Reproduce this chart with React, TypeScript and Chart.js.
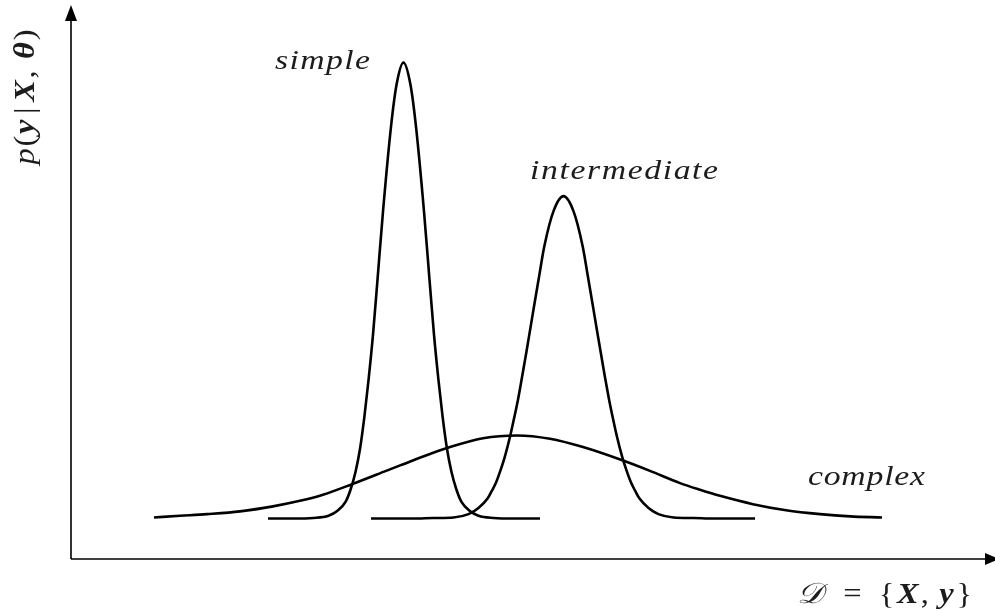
import { useEffect, useRef } from "react";
import { Chart, registerables } from "chart.js";

Chart.register(...registerables);

// Evidence p(y | X, θ) against data sets D, for three model complexities.
// x: position along the data-set axis (0–10), y: evidence (0–1).
const simpleX = [2.132, 2.408, 2.624, 2.787, 2.884, 2.971, 3.025, 3.079, 3.128, 3.176, 3.22, 3.268, 3.317, 3.377, 3.463, 3.523, 3.598, 3.674, 3.734, 3.82, 3.88, 3.929, 3.977, 4.021, 4.069, 4.118, 4.172, 4.226, 4.313, 4.41, 4.573, 4.789, 5.076];
const simpleY = [0.073, 0.073, 0.074, 0.078, 0.087, 0.103, 0.125, 0.157, 0.199, 0.258, 0.323, 0.404, 0.504, 0.628, 0.78, 0.856, 0.896, 0.856, 0.78, 0.628, 0.504, 0.404, 0.323, 0.258, 0.199, 0.157, 0.125, 0.103, 0.087, 0.078, 0.074, 0.073, 0.073];

const intermediateX = [3.247, 3.707, 3.923, 4.14, 4.302, 4.41, 4.508, 4.551, 4.6, 4.648, 4.694, 4.753, 4.794, 4.838, 4.881, 4.93, 4.973, 5.014, 5.07, 5.122, 5.222, 5.33, 5.438, 5.538, 5.59, 5.646, 5.687, 5.731, 5.779, 5.823, 5.866, 5.907, 5.966, 6.012, 6.061, 6.109, 6.153, 6.25, 6.358, 6.521, 6.737, 6.953, 7.403];
const intermediateY = [0.073, 0.073, 0.074, 0.075, 0.081, 0.092, 0.109, 0.122, 0.138, 0.16, 0.184, 0.222, 0.253, 0.288, 0.328, 0.375, 0.418, 0.459, 0.514, 0.564, 0.628, 0.655, 0.628, 0.564, 0.514, 0.459, 0.418, 0.375, 0.328, 0.288, 0.253, 0.222, 0.184, 0.16, 0.138, 0.122, 0.109, 0.092, 0.081, 0.075, 0.074, 0.073, 0.073];

const complexX = [0.898, 1.18, 1.472, 1.829, 2.186, 2.478, 2.727, 3.041, 3.409, 3.561, 4.102, 4.459, 4.827, 5.184, 5.541, 5.952, 6.266, 6.591, 6.807, 7.024, 7.381, 7.738, 8.106, 8.431, 8.777];
const complexY = [0.075, 0.078, 0.081, 0.086, 0.095, 0.105, 0.116, 0.135, 0.159, 0.169, 0.202, 0.218, 0.223, 0.217, 0.202, 0.179, 0.159, 0.137, 0.125, 0.114, 0.099, 0.088, 0.081, 0.077, 0.075];

const curveNames = ["simple", "intermediate", "complex"];

type Seg = [string, string];
const SERIF = '"Liberation Serif", "Times New Roman", serif';
const LABEL_FONT = `italic 27px ${SERIF}`;
const IT = `italic 29px ${SERIF}`;
const BI = `bold italic 29px ${SERIF}`;
const RM = `29px ${SERIF}`;

const yTitle: Seg[] = [["p", IT], ["(", RM], ["y", BI], ["|", RM], ["X", BI], [",", RM], ["θ", BI], [")", RM]];
const xTitle: Seg[] = [["𝒟", IT], ["=", RM], ["{", RM], ["X", BI], [",", RM], ["y", BI], ["}", RM]];

function points(xs: number[], ys: number[]) {
  return xs.map((x, i) => ({ x, y: ys[i] }));
}

// Draw a run of differently styled pieces, widened by sx and spread to span `length` px.
function drawSegments(ctx: CanvasRenderingContext2D, segs: Seg[], length: number, gaps: number[], sx: number) {
  const widths = segs.map(([t, f]) => {
    ctx.font = f;
    return ctx.measureText(t).width * sx;
  });
  const base = widths.reduce((a, b) => a + b, 0);
  const gapTotal = gaps.reduce((a, b) => a + b, 0);
  const unit = gapTotal > 0 ? Math.max(0, length - base) / gapTotal : 0;
  let x = 0;
  segs.forEach(([t, f], i) => {
    ctx.font = f;
    ctx.save();
    ctx.translate(x, 0);
    ctx.scale(sx, 1);
    ctx.fillText(t, 0, 0);
    ctx.restore();
    x += widths[i] + (gaps[i] || 0) * unit;
  });
}

function drawSpaced(ctx: CanvasRenderingContext2D, text: string, x: number, y: number, width: number, sx: number) {
  ctx.font = LABEL_FONT;
  (ctx as any).letterSpacing = "0px";
  const w = ctx.measureText(text).width * sx;
  const s = (width - w) / Math.max(1, text.length - 1);
  ctx.save();
  ctx.translate(x, y);
  ctx.scale(sx, 1);
  (ctx as any).letterSpacing = `${s / sx}px`;
  ctx.fillText(text, 0, 0);
  (ctx as any).letterSpacing = "0px";
  ctx.restore();
}

const decorations = {
  id: "decorations",
  afterDraw(chart: Chart) {
    const { ctx, chartArea } = chart;
    const xs = chart.scales.x;
    const ys = chart.scales.y;
    const { left, right, top, bottom } = chartArea;
    ctx.save();
    ctx.strokeStyle = "#000";
    ctx.fillStyle = "#000";
    ctx.lineWidth = 1.6;

    // axes with arrow heads
    ctx.beginPath();
    ctx.moveTo(left, bottom);
    ctx.lineTo(left, top + 10);
    ctx.moveTo(left, bottom);
    ctx.lineTo(right - 8, bottom);
    ctx.stroke();

    ctx.beginPath();
    ctx.moveTo(left, top);
    ctx.lineTo(left - 6, top + 16);
    ctx.lineTo(left + 6, top + 16);
    ctx.closePath();
    ctx.fill();

    ctx.beginPath();
    ctx.moveTo(right + 4, bottom);
    ctx.lineTo(right - 10, bottom - 6);
    ctx.lineTo(right - 10, bottom + 6);
    ctx.closePath();
    ctx.fill();

    // curve names
    ctx.fillStyle = "#1c1c1c";
    ctx.textBaseline = "alphabetic";
    ctx.textAlign = "left";
    const spots: [number, number, number][] = [
      [2.208, 0.884, 95],
      [4.968, 0.686, 188],
      [7.976, 0.134, 117],
    ];
    curveNames.forEach((name, i) => {
      const [dx, dy, w] = spots[i];
      drawSpaced(ctx, name, xs.getPixelForValue(dx), ys.getPixelForValue(dy), w, 1.25);
    });

    // axis titles
    ctx.save();
    ctx.translate(left - 37, ys.getPixelForValue(0.712));
    ctx.rotate(-Math.PI / 2);
    drawSegments(ctx, yTitle, 135, [0.3, 0.3, 1, 1, 0.3, 2, 0.3, 0], 1.12);
    ctx.restore();

    ctx.save();
    ctx.translate(xs.getPixelForValue(7.857), bottom + 44);
    drawSegments(ctx, xTitle, 175, [3, 2.5, 0.4, 0.3, 1.5, 0.4, 0], 1.12);
    ctx.restore();

    ctx.restore();
  },
};

export default function App() {
  const ref = useRef<HTMLCanvasElement | null>(null);

  useEffect(() => {
    if (!ref.current) return;
    const line = {
      borderColor: "#000",
      borderWidth: 2.6,
      pointRadius: 0,
      fill: false,
      cubicInterpolationMode: "monotone" as const,
      clip: false as const,
    };
    const chart = new Chart(ref.current, {
      type: "line",
      data: {
        datasets: [
          { label: curveNames[0], data: points(simpleX, simpleY), ...line },
          { label: curveNames[1], data: points(intermediateX, intermediateY), ...line },
          { label: curveNames[2], data: points(complexX, complexY), ...line },
        ],
      },
      options: {
        animation: false,
        responsive: false,
        devicePixelRatio: 1,
        layout: { padding: { left: 71, right: 0, top: 5, bottom: 52 } },
        plugins: { legend: { display: false }, tooltip: { enabled: false } },
        scales: {
          x: { type: "linear", min: 0, max: 10, display: false },
          y: { type: "linear", min: 0, max: 1, display: false },
        },
      },
      plugins: [decorations],
    });
    return () => chart.destroy();
  }, []);

  return (
    <div style={{ position: "absolute", left: 0, top: 0, width: 995, height: 611, background: "#fff" }}>
      <canvas ref={ref} width={995} height={611} style={{ display: "block" }} />
    </div>
  );
}
